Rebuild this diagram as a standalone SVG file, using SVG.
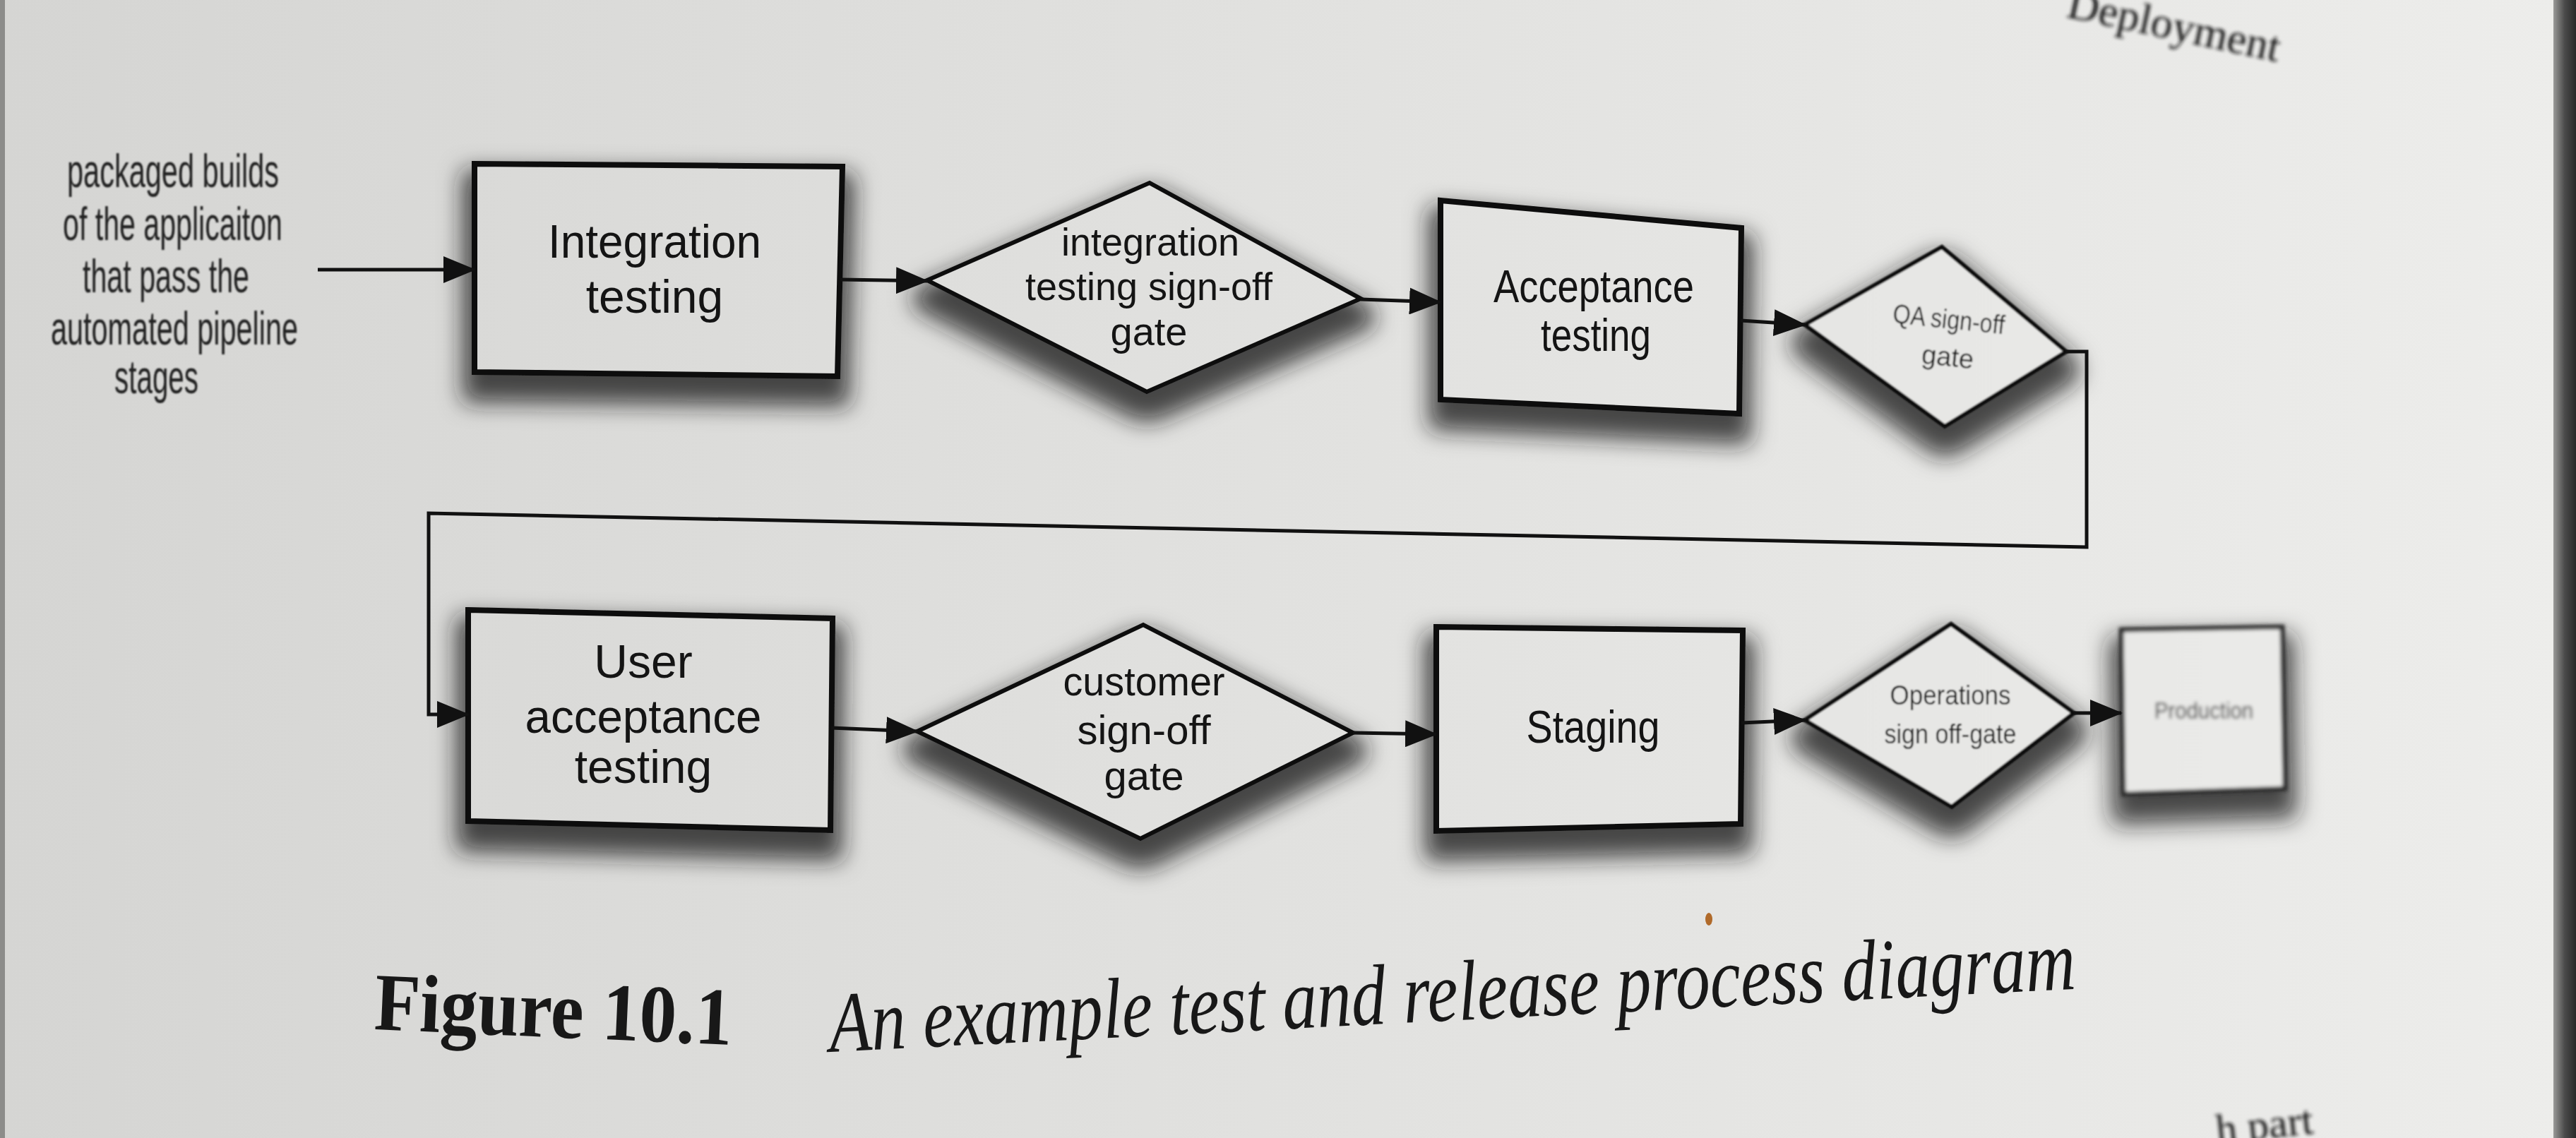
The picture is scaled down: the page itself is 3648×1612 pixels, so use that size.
<svg xmlns="http://www.w3.org/2000/svg" width="3648" height="1612" viewBox="0 0 3648 1612">
<defs>
  <linearGradient id="paper" gradientUnits="userSpaceOnUse" x1="0" y1="0" x2="3648" y2="0">
    <stop offset="0" stop-color="#d5d5d3"/>
    <stop offset="0.4" stop-color="#dfdfdd"/>
    <stop offset="0.8" stop-color="#e8e8e6"/>
    <stop offset="1" stop-color="#ededeb"/>
  </linearGradient>
  <linearGradient id="edge" x1="0" y1="0" x2="1" y2="0">
    <stop offset="0" stop-color="#9a9a98"/>
    <stop offset="0.5" stop-color="#4a4a4a"/>
    <stop offset="1" stop-color="#2a2a2a"/>
  </linearGradient>
  <filter id="sh" x="-25%" y="-25%" width="150%" height="175%">
    <feMorphology in="SourceAlpha" operator="dilate" radius="13" result="d"/>
    <feGaussianBlur in="d" stdDeviation="16" result="b"/>
    <feOffset in="b" dx="0" dy="26" result="o"/>
    <feFlood flood-color="#1c1c1c" flood-opacity="0.78"/>
    <feComposite in2="o" operator="in" result="s"/>
    <feMerge><feMergeNode in="s"/><feMergeNode in="SourceGraphic"/></feMerge>
  </filter>
  <filter id="soft" x="-30%" y="-30%" width="160%" height="190%"><feGaussianBlur stdDeviation="1"/></filter>
  <filter id="blur" x="-30%" y="-30%" width="160%" height="190%"><feGaussianBlur stdDeviation="2.5"/></filter>
  <filter id="blur2" x="-10%" y="-50%" width="120%" height="200%"><feGaussianBlur stdDeviation="2.5"/></filter>
  <marker id="ah" markerUnits="userSpaceOnUse" markerWidth="46" markerHeight="38" refX="44" refY="19" orient="auto">
    <path d="M0,0 L46,19 L0,38 Z" fill="#111"/>
  </marker>
  <style>
    .node { fill: url(#paper); stroke: #111; stroke-width: 8; stroke-linejoin: miter; }
    .gate { fill: url(#paper); stroke: #111; stroke-width: 6; stroke-linejoin: miter; }
    .lbl { font-family: "Liberation Sans", Arial, sans-serif; fill: #141414; text-anchor: middle; }
    .side { font-family: "Liberation Sans", Arial, sans-serif; fill: #222; font-size: 66px; }
    .conn { fill: none; stroke: #111; stroke-width: 5; }
    .cap { font-family: "Liberation Serif", "Times New Roman", serif; fill: #181818; }
  </style>
</defs>

<rect x="0" y="0" width="3648" height="1612" fill="url(#paper)"/>
<rect x="0" y="0" width="7" height="1612" fill="#8c8c8a"/>
<rect x="3616" y="0" width="32" height="1612" fill="url(#edge)"/>

<text class="cap" x="2925" y="24" font-size="62" fill="#333" transform="rotate(12 2925 24)" filter="url(#blur2)">Deployment</text>

<g id="source-text" filter="url(#soft)">
  <text class="side" x="95" y="265" textLength="300" lengthAdjust="spacingAndGlyphs">packaged builds</text>
  <text class="side" x="89" y="340" textLength="311" lengthAdjust="spacingAndGlyphs">of the applicaiton</text>
  <text class="side" x="117" y="414" textLength="236" lengthAdjust="spacingAndGlyphs">that pass the</text>
  <text class="side" x="72" y="488" textLength="350" lengthAdjust="spacingAndGlyphs">automated pipeline</text>
  <text class="side" x="162" y="557" textLength="119" lengthAdjust="spacingAndGlyphs">stages</text>
</g>

<g id="integration-testing">
  <polygon class="node" points="672,232 1193,236 1186,533 672,527" filter="url(#sh)"/>
  <text class="lbl" x="927" y="365" font-size="66" textLength="302" lengthAdjust="spacingAndGlyphs">Integration</text>
  <text class="lbl" x="927" y="443" font-size="66">testing</text>
</g>

<g id="integration-gate">
  <polygon class="gate" points="1313,397 1628,259 1927,423 1624,555" filter="url(#sh)"/>
  <text class="lbl" x="1629" y="362" font-size="56" textLength="252" lengthAdjust="spacingAndGlyphs">integration</text>
  <text class="lbl" x="1627" y="425" font-size="56" textLength="350" lengthAdjust="spacingAndGlyphs">testing sign-off</text>
  <text class="lbl" x="1627" y="489" font-size="56">gate</text>
</g>

<g id="acceptance-testing">
  <polygon class="node" points="2040,284 2466,323 2463,586 2040,566" filter="url(#sh)"/>
  <text class="lbl" x="2257" y="428" font-size="64" textLength="284" lengthAdjust="spacingAndGlyphs">Acceptance</text>
  <text class="lbl" x="2260" y="497" font-size="64" textLength="156" lengthAdjust="spacingAndGlyphs">testing</text>
</g>

<g id="qa-gate" filter="url(#soft)">
  <polygon class="gate" points="2556,460 2750,350 2926,498 2754,604" filter="url(#sh)"/>
  <g transform="rotate(6 2756 490)">
    <text class="lbl" x="2756" y="465" font-size="38" textLength="159" lengthAdjust="spacingAndGlyphs">QA sign-off</text>
    <text class="lbl" x="2760" y="518" font-size="38">gate</text>
  </g>
</g>

<g id="user-acceptance-testing">
  <polygon class="node" points="663,864 1179,876 1176,1176 663,1163" filter="url(#sh)"/>
  <text class="lbl" x="911" y="960" font-size="66">User</text>
  <text class="lbl" x="911" y="1038" font-size="66" textLength="335" lengthAdjust="spacingAndGlyphs">acceptance</text>
  <text class="lbl" x="911" y="1109" font-size="66">testing</text>
</g>

<g id="customer-gate">
  <polygon class="gate" points="1299,1036 1619,885 1916,1038 1615,1188" filter="url(#sh)"/>
  <text class="lbl" x="1620" y="985" font-size="58" textLength="229" lengthAdjust="spacingAndGlyphs">customer</text>
  <text class="lbl" x="1620" y="1054" font-size="58">sign-off</text>
  <text class="lbl" x="1620" y="1119" font-size="58">gate</text>
</g>

<g id="staging">
  <polygon class="node" points="2034,888 2468,893 2465,1167 2034,1177" filter="url(#sh)"/>
  <text class="lbl" x="2256" y="1052" font-size="64" textLength="189" lengthAdjust="spacingAndGlyphs">Staging</text>
</g>

<g id="operations-gate" filter="url(#soft)">
  <polygon class="gate" points="2556,1020 2763,884 2937,1010 2764,1143" filter="url(#sh)"/>
  <text class="lbl" x="2762" y="998" font-size="38" textLength="171" lengthAdjust="spacingAndGlyphs">Operations</text>
  <text class="lbl" x="2762" y="1053" font-size="38" textLength="187" lengthAdjust="spacingAndGlyphs">sign off-gate</text>
</g>

<g id="production" filter="url(#blur)">
  <polygon class="node" points="3004,892 3232,888 3236,1117 3007,1125" style="stroke:#2a2a2a;stroke-width:7" filter="url(#sh)"/>
  <text class="lbl" x="3121" y="1018" font-size="34" fill="#222" textLength="140" lengthAdjust="spacingAndGlyphs">Production</text>
</g>

<g id="connectors">
  <line class="conn" x1="450" y1="382" x2="672" y2="382" marker-end="url(#ah)"/>
  <line class="conn" x1="1190" y1="396" x2="1313" y2="398" marker-end="url(#ah)"/>
  <line class="conn" x1="1927" y1="424" x2="2040" y2="428" marker-end="url(#ah)"/>
  <line class="conn" x1="2465" y1="454" x2="2556" y2="460" marker-end="url(#ah)"/>
  <path class="conn" d="M2926,498 L2955,498 L2955,775 L607,727 L607,1012 L663,1012" marker-end="url(#ah)"/>
  <line class="conn" x1="1177" y1="1031" x2="1299" y2="1036" marker-end="url(#ah)"/>
  <line class="conn" x1="1916" y1="1038" x2="2034" y2="1040" marker-end="url(#ah)"/>
  <line class="conn" x1="2466" y1="1024" x2="2556" y2="1020" marker-end="url(#ah)"/>
  <line class="conn" x1="2937" y1="1010" x2="3004" y2="1010" marker-end="url(#ah)"/>
</g>

<ellipse cx="2420" cy="1302" rx="5" ry="9" fill="#b06a2a"/>

<text class="cap" x="529" y="1458" font-size="116" font-weight="bold" textLength="507" lengthAdjust="spacingAndGlyphs" transform="rotate(2.5 529 1458)">Figure 10.1</text>
<text class="cap" x="1176" y="1490" font-size="122" font-style="italic" textLength="1767" lengthAdjust="spacingAndGlyphs" transform="rotate(-2.9 1176 1490)">An example test and release process diagram</text>

<text class="cap" x="3140" y="1620" font-size="60" fill="#333" transform="rotate(-6 3140 1620)" filter="url(#blur2)">h part</text>
</svg>
